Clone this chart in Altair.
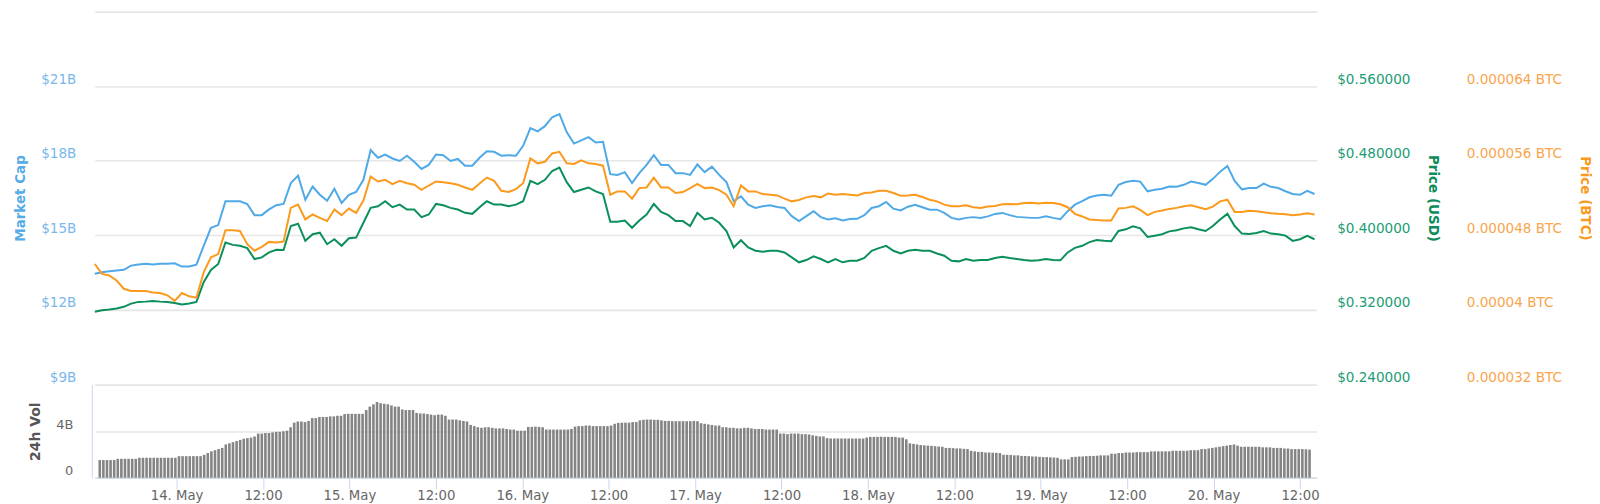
import altair as alt
import pandas as pd

# Hours relative to 14 May 2019 00:00 (first sample ~13 May 13:20)
START_HOUR = -10.67
LINE_STEP_H = 1.0
VOL_STEP_H = 0.5
X_END_HOUR = 157.63

market_cap_b = [
    13.45, 13.51, 13.55, 13.58, 13.61, 13.78, 13.82, 13.85, 13.82, 13.85,
    13.85, 13.87, 13.74, 13.74, 13.82, 14.57, 15.30, 15.41, 16.37, 16.37,
    16.37, 16.26, 15.81, 15.81, 16.04, 16.21, 16.26, 17.10, 17.40, 16.43,
    16.96, 16.63, 16.39, 16.87, 16.30, 16.63, 16.74, 17.23, 18.43, 18.12,
    18.25, 18.09, 17.99, 18.20, 17.96, 17.67, 17.83, 18.25, 18.22, 17.99,
    18.07, 17.80, 17.80, 18.12, 18.38, 18.36, 18.20, 18.22, 18.20, 18.60,
    19.31, 19.18, 19.39, 19.75, 19.88, 19.15, 18.69, 18.82, 18.95, 18.73,
    18.76, 17.46, 17.43, 17.54, 17.10, 17.50, 17.83, 18.22, 17.83, 17.83,
    17.50, 17.50, 17.43, 17.85, 17.54, 17.76, 17.43, 17.14, 16.37, 16.57,
    16.23, 16.10, 16.17, 16.21, 16.14, 16.10, 15.77, 15.57, 15.77, 15.97,
    15.73, 15.64, 15.68, 15.60, 15.65, 15.66, 15.81, 16.10, 16.17, 16.34,
    16.07, 16.00, 16.15, 16.23, 16.13, 16.03, 16.03, 15.90, 15.70, 15.64,
    15.70, 15.73, 15.70, 15.76, 15.86, 15.90, 15.81, 15.74, 15.72, 15.70,
    15.70, 15.76, 15.70, 15.65, 15.97, 16.23, 16.37, 16.53, 16.60, 16.63,
    16.59, 17.03, 17.14, 17.19, 17.16, 16.77, 16.83, 16.87, 16.96, 16.95,
    17.03, 17.16, 17.10, 17.03, 17.27, 17.56, 17.79, 17.19, 16.85, 16.90,
    16.90, 17.08, 16.95, 16.90, 16.77, 16.66, 16.63, 16.79, 16.66,
]

price_usd = [
    0.3179, 0.3196, 0.3203, 0.3214, 0.3232, 0.3267, 0.3285, 0.3288, 0.3295, 0.3288,
    0.3285, 0.3274, 0.3257, 0.3267, 0.3285, 0.3497, 0.3628, 0.3692, 0.3922, 0.3897,
    0.3887, 0.3862, 0.3745, 0.3763, 0.3816, 0.3844, 0.3841, 0.4099, 0.4124, 0.3940,
    0.4011, 0.4028, 0.3904, 0.3957, 0.3887, 0.3968, 0.3975, 0.4135, 0.4294, 0.4311,
    0.4365, 0.4301, 0.4329, 0.4276, 0.4276, 0.4195, 0.4223, 0.4336, 0.4322, 0.4294,
    0.4276, 0.4241, 0.4230, 0.4301, 0.4365, 0.4329, 0.4329, 0.4312, 0.4329, 0.4365,
    0.4584, 0.4549, 0.4595, 0.4690, 0.4726, 0.4570, 0.4464, 0.4488, 0.4513, 0.4471,
    0.4443, 0.4145, 0.4145, 0.4159, 0.4081, 0.4159, 0.4223, 0.4336, 0.4251, 0.4216,
    0.4152, 0.4152, 0.4099, 0.4241, 0.4170, 0.4188, 0.4134, 0.4046, 0.3869, 0.3947,
    0.3869, 0.3834, 0.3823, 0.3834, 0.3834, 0.3816, 0.3763, 0.3710, 0.3734, 0.3773,
    0.3745, 0.3710, 0.3745, 0.3710, 0.3727, 0.3727, 0.3756, 0.3834, 0.3862, 0.3887,
    0.3834, 0.3805, 0.3834, 0.3844, 0.3834, 0.3834, 0.3805, 0.3780, 0.3727, 0.3720,
    0.3745, 0.3727, 0.3734, 0.3734, 0.3756, 0.3770, 0.3756, 0.3745, 0.3734, 0.3727,
    0.3731, 0.3745, 0.3734, 0.3731, 0.3816, 0.3865, 0.3887, 0.3926, 0.3950, 0.3940,
    0.3936, 0.4046, 0.4064, 0.4096, 0.4074, 0.3982, 0.3996, 0.4011, 0.4042, 0.4053,
    0.4074, 0.4085, 0.4064, 0.4046, 0.4099, 0.4170, 0.4230, 0.4099, 0.4018, 0.4014,
    0.4025, 0.4046, 0.4018, 0.4011, 0.3996, 0.3940, 0.3957, 0.3993, 0.3957,
]

# Price in BTC, in millionths of a bitcoin (x 1e-6 BTC)
price_btc_micro = [
    44.92, 43.86, 43.68, 43.15, 42.26, 42.02, 42.02, 42.02, 41.87, 41.80,
    41.56, 40.96, 41.80, 41.45, 41.31, 44.03, 45.63, 45.98, 48.53, 48.53,
    48.46, 47.04, 46.34, 46.76, 47.29, 47.22, 47.32, 50.94, 51.29, 49.70,
    50.23, 49.87, 49.52, 50.76, 50.16, 50.87, 50.41, 51.72, 54.30, 53.77,
    53.95, 53.49, 53.84, 53.59, 53.42, 52.88, 53.34, 53.77, 53.70, 53.59,
    53.42, 53.13, 52.88, 53.56, 54.19, 53.84, 52.78, 52.64, 52.96, 53.59,
    56.25, 55.72, 55.89, 56.78, 56.96, 55.72, 55.65, 56.04, 55.72, 55.65,
    55.47, 52.35, 52.71, 52.71, 51.93, 53.06, 53.13, 54.19, 53.13, 53.13,
    52.53, 52.64, 53.06, 53.52, 53.06, 53.13, 52.85, 52.35, 51.11, 53.34,
    52.71, 52.71, 52.42, 52.35, 52.28, 51.93, 51.64, 51.79, 52.07, 52.21,
    52.07, 52.49, 52.35, 52.42, 52.35, 52.28, 52.53, 52.60, 52.78, 52.78,
    52.53, 52.25, 52.28, 52.35, 52.10, 51.82, 51.64, 51.29, 51.11, 51.11,
    51.22, 51.01, 50.94, 51.08, 51.15, 51.33, 51.36, 51.33, 51.47, 51.50,
    51.40, 51.50, 51.47, 51.33, 51.01, 50.30, 50.02, 49.70, 49.63, 49.59,
    49.59, 50.87, 50.94, 51.11, 50.72, 50.16, 50.51, 50.65, 50.83, 50.94,
    51.11, 51.22, 51.01, 50.80, 51.08, 51.64, 51.82, 50.51, 50.51, 50.62,
    50.58, 50.48, 50.37, 50.30, 50.26, 50.16, 50.23, 50.37, 50.23,
]

# 24h volume, billions USD, one bar every 30 minutes
volume_b = [
    1.54, 1.54, 1.54, 1.54, 1.54, 1.65, 1.65, 1.65, 1.65, 1.65,
    1.65, 1.74, 1.74, 1.74, 1.74, 1.74, 1.74, 1.74, 1.74, 1.74,
    1.74, 1.74, 1.88, 1.88, 1.88, 1.88, 1.88, 1.88, 1.88, 2.0,
    2.15, 2.3, 2.4, 2.5, 2.6, 2.9, 3.0, 3.1, 3.2, 3.3,
    3.4, 3.45, 3.5, 3.6, 3.85, 3.85, 3.9, 3.9, 3.95, 4.0,
    4.0, 4.05, 4.1, 4.4, 4.8, 4.9, 4.9, 4.85, 4.95, 5.2,
    5.2, 5.3, 5.3, 5.3, 5.35, 5.35, 5.4, 5.4, 5.55, 5.57,
    5.57, 5.57, 5.57, 5.57, 5.9, 6.2, 6.4, 6.6, 6.5, 6.45,
    6.4, 6.3, 6.2, 6.2, 5.95, 5.9, 5.9, 5.9, 5.65, 5.6,
    5.6, 5.55, 5.5, 5.45, 5.5, 5.5, 5.4, 5.07, 5.07, 5.07,
    5.0, 4.95, 4.9, 4.6, 4.5, 4.4, 4.35, 4.4, 4.4, 4.35,
    4.3, 4.3, 4.3, 4.25, 4.2, 4.2, 4.1, 4.1, 4.1, 4.43,
    4.43, 4.45, 4.43, 4.4, 4.2, 4.2, 4.2, 4.2, 4.2, 4.2,
    4.2, 4.25, 4.45, 4.5, 4.5, 4.55, 4.55, 4.5, 4.5, 4.5,
    4.5, 4.5, 4.55, 4.7, 4.78, 4.8, 4.8, 4.8, 4.85, 4.85,
    5.0, 5.05, 5.07, 5.07, 5.05, 5.05, 5.0, 4.95, 4.95, 4.93,
    4.93, 4.93, 4.93, 4.93, 4.93, 4.95, 4.93, 4.75, 4.7, 4.65,
    4.6, 4.55, 4.55, 4.4, 4.4, 4.35, 4.35, 4.3, 4.3, 4.35,
    4.35, 4.3, 4.25, 4.25, 4.25, 4.2, 4.2, 4.2, 4.2, 3.85,
    3.85, 3.8, 3.85, 3.85, 3.85, 3.8, 3.8, 3.77, 3.7, 3.65,
    3.6, 3.6, 3.45, 3.42, 3.42, 3.42, 3.42, 3.42, 3.42, 3.42,
    3.42, 3.42, 3.42, 3.5, 3.56, 3.56, 3.56, 3.58, 3.56, 3.56,
    3.56, 3.55, 3.5, 3.5, 3.35, 3.0, 2.95, 2.9, 2.85, 2.82,
    2.8, 2.78, 2.75, 2.72, 2.7, 2.6, 2.6, 2.58, 2.55, 2.55,
    2.52, 2.5, 2.35, 2.3, 2.25, 2.25, 2.2, 2.2, 2.18, 2.17,
    2.15, 2.0, 2.0, 1.98, 1.95, 1.95, 1.9, 1.9, 1.88, 1.85,
    1.85, 1.82, 1.8, 1.8, 1.78, 1.76, 1.74, 1.6, 1.6, 1.6,
    1.8, 1.82, 1.85, 1.85, 1.88, 1.9, 1.9, 1.92, 1.95, 1.95,
    1.95, 2.1, 2.1, 2.15, 2.15, 2.2, 2.2, 2.2, 2.23, 2.23,
    2.23, 2.23, 2.3, 2.3, 2.3, 2.3, 2.3, 2.3, 2.35, 2.35,
    2.35, 2.35, 2.35, 2.4, 2.4, 2.4, 2.5, 2.5, 2.55, 2.6,
    2.65, 2.7, 2.75, 2.8, 2.85, 2.9, 2.8, 2.7, 2.7, 2.7,
    2.7, 2.7, 2.7, 2.65, 2.65, 2.65, 2.6, 2.6, 2.6, 2.55,
    2.55, 2.5, 2.5, 2.5, 2.5, 2.48, 2.45,
]

mc_ticks = [9, 12, 15, 18, 21, 24]
usd_ticks = [0.24, 0.32, 0.40, 0.48, 0.56]
btc_ticks = [32, 40, 48, 56, 64]
vol_ticks = [0, 4]
x_ticks = [0, 12, 24, 36, 48, 60, 72, 84, 96, 108, 120, 132, 144, 156]

BLUE = "#4fa9e6"
BLUE_LABEL = "#7ab8ea"
BLUE_TITLE = "#55ace6"
GREEN = "#0b8f5b"
GREEN_LABEL = "#1a9c74"
GREEN_TITLE = "#0d8b58"
ORANGE = "#fb9a1c"
ORANGE_LABEL = "#f8a54c"
ORANGE_TITLE = "#f99a22"
BAR = "#848484"
GRID = "#e6e6e6"
AXISLINE = "#ccd6eb"
FONT = "DejaVu Sans"

W = 1225
TOP_H = 373.7
VOL_H = 93.3

n = min(len(market_cap_b), len(price_usd), len(price_btc_micro))
lines = pd.DataFrame({
    "hour": [START_HOUR + i * LINE_STEP_H for i in range(n)],
    "mc": market_cap_b[:n],
    "usd": price_usd[:n],
    "btc": price_btc_micro[:n],
})
vol = pd.DataFrame({
    "hour": [START_HOUR + i * VOL_STEP_H for i in range(len(volume_b))],
    "vol": volume_b,
})

xscale = alt.Scale(domain=[START_HOUR, X_END_HOUR], nice=False, zero=False)
base = alt.Chart(lines).encode(x=alt.X("hour:Q", scale=xscale, axis=None))

common_y = dict(
    domain=False, ticks=False, labelFont=FONT,
    titleFont=FONT, titleFontSize=13.5, titleFontWeight="bold",
    labelBaseline="alphabetic", labelOffset=-3, labelOverlap=False, labelFlush=False,
)

mc_line = base.mark_line(color=BLUE, strokeWidth=2).encode(
    y=alt.Y("mc:Q", scale=alt.Scale(domain=[9, 24], nice=False, zero=False),
            axis=alt.Axis(orient="left", values=mc_ticks,
                          labelExpr="datum.value >= 24 ? '' : '$' + datum.value + 'B'",
                          labelFontSize={"condition": {"test": "datum.value >= 24", "value": 0},
                                         "value": 13.6},
                          title="Market Cap", titleColor=BLUE_TITLE, labelColor=BLUE_LABEL,
                          grid=True, gridColor=GRID, gridWidth=1.6,
                          labelPadding=19, titlePadding=13, **common_y))
)

usd_line = base.mark_line(color=GREEN, strokeWidth=2).encode(
    y=alt.Y("usd:Q", scale=alt.Scale(domain=[0.24, 0.64], nice=False, zero=False),
            axis=alt.Axis(orient="right", values=usd_ticks,
                          labelExpr="'$' + format(datum.value, '.6f')", labelFontSize=13.6,
                          title="Price (USD)", titleColor=GREEN_TITLE, labelColor=GREEN_LABEL,
                          grid=False, labelAlign="left", labelPadding=20, titlePadding=16,
                          **common_y))
)

btc_line = base.mark_line(color=ORANGE, strokeWidth=2).encode(
    y=alt.Y("btc:Q", scale=alt.Scale(domain=[32, 72], nice=False, zero=False),
            axis=alt.Axis(orient="right", values=btc_ticks, offset=130,
                          labelExpr="datum.value == 40 ? '0.00004 BTC' : '0.0000' + datum.value + ' BTC'",
                          labelFontSize=13.6,
                          title="Price (BTC)", titleColor=ORANGE_TITLE, labelColor=ORANGE_LABEL,
                          grid=False, labelAlign="left", labelPadding=20, titlePadding=16,
                          **common_y))
)

top = alt.layer(mc_line, usd_line, btc_line).resolve_scale(y="independent").properties(
    width=W, height=TOP_H)

vol_chart = alt.Chart(vol).mark_bar(color=BAR, size=2.6, orient="vertical").encode(
    x=alt.X("hour:Q", scale=xscale,
            axis=alt.Axis(values=x_ticks, title=None, grid=False,
                          labelExpr="datum.value % 24 == 0 ? (14 + datum.value / 24) + '. May' : '12:00'",
                          domain=True, domainColor=AXISLINE, ticks=True, tickColor=AXISLINE,
                          tickSize=11, labelPadding=0, labelColor="#666666", labelFont=FONT,
                          labelFontSize=13.3, labelFlush=False, labelOverlap=False)),
    y=alt.Y("vol:Q", scale=alt.Scale(domain=[0, 8.11], nice=False),
            axis=alt.Axis(values=vol_ticks, offset=3,
                          labelExpr="datum.value == 0 ? '0' : datum.value + 'B'",
                          title="24h Vol", titleColor="#555555", titleFont=FONT, titleFontSize=14,
                          titleFontWeight="bold", titlePadding=13,
                          labelColor="#666666", labelFont=FONT, labelFontSize=13,
                          labelPadding=19, labelBaseline="alphabetic", labelOffset=-3,
                          grid=True, gridColor=GRID, gridWidth=1.6,
                          domain=True, domainColor=AXISLINE, ticks=False,
                          labelOverlap=False, labelFlush=False)),
).properties(width=W, height=VOL_H)

chart = alt.vconcat(top, vol_chart, spacing=0, bounds="flush").properties(
    padding={"left": 5, "top": 0, "right": 0, "bottom": 0},
    background="white",
).configure_view(stroke=None)

chart.save("out.html", embed_options={"renderer": "svg", "actions": False})
